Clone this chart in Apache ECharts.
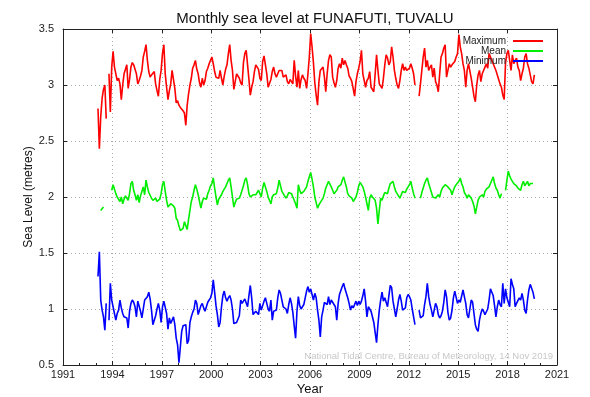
<!DOCTYPE html>
<html>
<head>
<meta charset="utf-8">
<script src="https://cdn.jsdelivr.net/npm/echarts@6/dist/echarts.min.js"></script>
<style>
  html, body { margin: 0; padding: 0; background: #fff; }
  #chart { width: 590px; height: 397px; }
</style>
</head>
<body>
<div id="chart"></div>
<script>
// monthly series, first value is Feb 1993
const startYear = 1993
const startMonth = 2

const maxLevel = [
  2.79, 2.43, 2.72, 2.88, 2.96, 3.00, 2.70, null, 3.10, 2.76, 3.16, 3.30,
  3.16, 3.15, 3.04, 3.06, 3.01, 2.87, 3.00, 3.10, 3.14, 3.18, 2.97, 3.05,
  3.16, 3.20, 3.18, 3.19, 3.10, 3.01, 3.04, 3.08, 3.13, 3.25, 3.30, 3.36,
  3.22, 3.12, 3.07, 3.09, 3.10, 3.12, 3.01, 2.95, 2.90, 3.05, 3.13, 3.28,
  3.36, 3.10, 2.98, 2.87, 2.95, 3.01, 3.13, 3.05, 2.97, 2.84, 2.86, 2.82,
  2.80, 2.79, 2.77, 2.75, 2.64, 2.82, 2.92, 3.00, 3.06, 3.15, 3.18, 3.22,
  3.14, 3.10, 3.02, 2.98, 3.06, 3.00, 3.04, 3.12, 3.15, 3.19, 3.22, 3.25,
  3.19, 3.12, 3.07, 3.06, 3.06, 3.13, 3.06, 3.00, 3.08, 3.14, 3.18, 3.28,
  3.36, 3.22, 3.13, 2.96, 2.97, 3.10, 3.08, 3.06, 3.02, 3.00, 3.20, 3.28,
  3.31, 3.18, 3.05, 2.91, 2.98, 3.03, 3.12, 3.18, 3.16, 3.14, 3.06, 3.04,
  3.21, 3.26, 3.18, 3.10, 2.98, 2.98, 3.05, 3.12, 3.16, 3.10, 3.07, 3.10,
  3.13, 3.12, 3.13, 3.07, 3.08, 3.09, 3.03, 3.01, 3.05, 3.06, 3.01, 3.22,
  3.08, 2.98, 3.13, 2.97, 3.05, 3.09, 3.06, 3.04, 2.97, 3.10, 3.25, 3.46,
  3.34, 3.20, 3.02, 2.91, 2.82, 3.03, 3.13, 3.14, 3.16, 3.07, 2.94, 3.10,
  3.22, 3.27, 3.25, 3.07, 3.02, 2.98, 3.04, 3.15, 3.19, 3.15, 3.24, 3.18,
  3.22, 3.18, 3.15, 3.08, 3.06, 3.03, 3.03, 2.90, 3.03, 3.10, 3.15, 3.21,
  3.31, 3.10, 3.04, 2.98, 3.04, 3.06, 3.12, 2.98, 2.96, 2.94, 3.10, 3.27,
  3.13, 3.01, 3.00, 2.97, 3.06, 3.18, 3.27, 3.24, 3.18, 3.21, 3.34, 3.25,
  3.13, 3.06, 3.00, 2.97, 3.04, 3.13, 3.19, 3.13, 3.16, 3.13, 3.14, 3.15,
  3.19, 3.15, 3.10, 3.00, null, null, 2.90, 3.01, 3.13, 3.25, 3.33, 3.16,
  3.22, 3.13, 3.16, 3.18, 3.07, 3.15, 3.03, 3.00, 2.94, 3.10, 3.25, 3.28,
  3.33, 3.36, 3.07, 3.13, 3.19, 3.16, 3.18, 3.19, 3.21, 3.25, 3.28, 3.45,
  3.34, 3.28, 3.19, 3.13, 2.98, 3.13, 3.19, 3.19, 3.06, 2.98, 2.90, 2.85,
  3.00, 3.09, 3.13, 3.03, 3.10, 3.13, 3.16, 3.19, 3.15, 3.28, 3.28, 3.22,
  3.19, 3.19, 3.13, 3.09, 3.05, 3.01, 2.98, 2.91, 2.87, 3.20, 3.28, 3.31,
  3.30, 3.13, 3.27, 3.19, 3.22, 3.24, 3.16, 3.13, 3.04, 3.10, 3.15, 3.25,
  3.28, 3.19, 3.15, 3.09, 3.03, 3.01, 3.09
]

const meanLevel = [
  null, null, 1.88, 1.89, 1.91, null, null, null, null, null, 2.06, 2.11,
  2.07, 2.03, 2.00, 1.98, 1.96, 2.00, 1.94, 1.98, 2.01, 2.02, 1.97, 2.03,
  2.12, 2.14, 2.06, 2.02, 1.97, 2.02, 1.95, 2.01, 2.05, 2.09, 2.02, 2.15,
  2.09, 2.04, 2.03, 1.99, 1.97, 1.96, 1.99, 1.96, 1.97, 1.98, 2.03, 2.11,
  2.14, 2.05, 1.97, 1.91, 1.92, 1.94, 1.95, 1.92, 1.90, 1.81, 1.79, 1.74,
  1.70, 1.69, 1.72, 1.78, 1.78, 1.71, 1.80, 1.88, 1.96, 2.00, 2.06, 2.11,
  2.07, 2.02, 1.96, 1.90, 1.96, 1.99, 2.00, 1.98, 2.03, 2.06, 2.10, 2.12,
  2.17, 2.08, 2.00, 1.93, 1.98, 1.99, 2.02, 2.05, 2.07, 2.09, 2.12, 2.15,
  2.17, 2.09, 2.00, 1.91, 1.95, 1.98, 1.99, 1.99, 2.02, 2.06, 2.10, 2.15,
  2.17, 2.11, 2.03, 2.00, 2.01, 2.02, 2.02, 2.02, 2.04, 2.06, 2.03, 2.00,
  2.08, 2.13, 2.12, 2.05, 2.00, 1.99, 1.94, 2.00, 2.02, 2.02, 2.03, 2.08,
  2.15, 2.10, 2.05, 2.03, 2.01, 1.99, 2.01, 2.04, 2.05, 2.03, 2.00, 2.00,
  1.94, 1.90, 2.11, 2.06, 2.03, 2.04, 2.05, 2.06, 2.09, 2.14, 2.18, 2.22,
  2.16, 2.09, 2.00, 1.95, 1.90, 1.93, 1.95, 1.96, 1.99, 2.03, 2.08, 2.11,
  2.14, 2.15, 2.09, 2.06, 2.03, 2.04, 2.06, 2.09, 2.08, 2.11, 2.15, 2.18,
  2.17, 2.09, 2.03, 2.01, 2.00, 1.99, 1.96, 1.97, 2.00, 2.04, 2.10, 2.13,
  2.14, 2.09, 2.05, 2.00, 1.94, 1.88, 1.99, 2.02, 2.00, 2.01, 1.97, 1.90,
  1.76, 1.88, 1.99, 1.97, 2.01, 2.04, 2.05, 2.03, 2.08, 2.12, 2.13, 2.14,
  2.09, 2.05, 2.03, 2.01, 1.99, 2.02, 2.05, 2.06, 2.04, 2.07, 2.09, 2.11,
  2.14, 2.08, 2.03, 1.99, null, null, null, 1.99, 2.04, 2.08, 2.12, 2.15,
  2.17, 2.12, 2.08, 2.04, 2.00, 1.99, 1.99, 1.99, 2.02, 2.00, 2.05, 2.08,
  2.09, 2.11, 2.10, 2.09, 2.08, 2.06, 2.02, 2.06, 2.09, 2.11, 2.12, 2.14,
  2.17, 2.12, 2.09, 2.04, 2.02, 1.99, 2.02, 2.03, 1.99, 1.96, 1.92, 1.85,
  1.91, 1.97, 2.00, 2.01, 2.02, 2.00, 2.05, 2.07, 2.08, 2.09, 2.12, 2.15,
  2.18, 2.12, 2.08, 2.06, 2.02, 1.99, 2.03, null, null, 2.06, 2.15, 2.23,
  2.19, 2.16, 2.14, 2.12, 2.11, 2.10, 2.08, 2.09, 2.06, 2.11, 2.14, 2.10,
  2.09, 2.14, 2.10, 2.12, 2.11, 2.12, null
]

const minLevel = [
  1.29, 1.51, 1.08, 0.99, 0.93, 0.81, 1.05, null, 0.90, 1.23, 1.08, 1.09,
  0.96, 0.90, 0.96, 0.99, 1.08, 1.01, 0.96, 0.93, 0.92, 0.92, 0.83, 0.98,
  1.05, 1.08, 1.06, 1.02, 0.93, 1.07, 1.06, 0.98, 0.92, 1.00, 1.08, 1.08,
  1.11, 1.15, 1.09, 0.99, 0.86, 0.87, 0.94, 1.00, 1.05, 0.99, 0.88, 1.02,
  1.07, 1.07, 0.96, 0.82, 0.92, 0.87, 0.90, 0.93, 0.86, 0.74, 0.68, 0.52,
  0.66, 0.80, 0.85, 0.86, 0.86, 0.69, 0.72, 0.88, 0.93, 0.97, 1.00, 1.08,
  1.05, 0.95, 0.96, 1.03, 1.05, 1.01, 0.98, 1.02, 1.06, 1.08, 1.10, 1.14,
  1.26, 1.15, 1.03, 0.95, 0.84, 0.88, 1.02, 1.12, 1.16, 1.10, 1.07, 1.10,
  1.12, 1.08, 1.00, 0.87, 0.87, 0.88, 0.89, 0.94, 1.08, 1.05, 1.07, 1.09,
  1.10, 1.02, 1.12, 1.21, 1.10, 0.95, 0.94, 0.98, 0.99, 0.95, 1.05, 0.99,
  1.03, 1.07, 1.10, 1.05, 1.00, 0.98, 1.08, 0.90, 0.98, 0.99, 0.99, 1.10,
  1.17, 1.14, 1.08, 1.02, 1.02, 1.00, 0.96, 1.04, 1.10, 1.05, 0.97, 0.85,
  0.74, 0.98, 1.11, 1.03, 1.00, 1.02, 1.04, 1.10, 1.16, 1.20, 1.15, 1.18,
  1.17, 1.08, 1.14, 1.10, 0.99, 0.90, 0.75, 0.93, 0.99, 1.06, 1.05, 1.04,
  1.11, 1.04, 1.08, 1.06, 1.04, 1.02, 0.90, 1.05, 1.13, 1.14, 1.20, 1.23,
  1.18, 1.14, 1.10, 1.05, 0.99, 1.03, 1.01, 1.04, 1.07, 1.03, 1.07, 1.04,
  1.07, 1.12, 1.18, 1.07, 0.93, 1.02, 1.00, 0.98, 0.97, 0.88, 0.79, 0.70,
  0.86, 0.99, 1.08, 1.15, 1.07, 1.10, 1.06, 1.02, 1.12, 1.21, 1.19, 1.07,
  1.00, 0.93, 1.00, 1.08, 1.13, 1.07, 0.99, 0.99, 1.01, 1.10, 1.13, 1.11,
  1.08, 1.00, 0.93, 0.86, null, null, 0.99, 0.92, 0.93, 0.94, 1.04, 1.11,
  1.23, 1.11, 1.04, 0.99, 0.93, 0.99, 1.05, 1.02, 0.95, 0.92, 0.94, 0.98,
  1.06, 1.17, 1.11, 0.97, 0.90, 0.92, 0.99, 1.10, 1.16, 1.17, 1.05, 1.08,
  1.06, 1.05, 1.17, 1.18, 1.05, 0.95, 0.92, 1.00, 1.08, 1.06, 0.96, 0.86,
  0.82, 0.80, 0.90, 0.96, 1.00, 0.98, 0.95, 0.95, 1.00, 1.08, 1.18, 1.15,
  1.12, 1.03, 0.93, 1.02, 1.08, 1.04, 1.02, 1.23, 1.05, 1.18, 1.10, 1.06,
  1.02, 1.27, 1.22, 1.18, 1.02, 1.05, 1.04, 1.10, 1.08, 1.14, 1.08, 0.99,
  0.96, 1.08, 1.17, 1.22, 1.23, 1.15, 1.09
]

const seriesNames = ['Maximum', 'Mean', 'Minimum']
const seriesColors = ['#ff0000', '#00ee00', '#0000ff']

function toPoints(values) {
  return values.map((v, i) => [startYear + (startMonth - 1 + i + 0.5) / 12, v])
}

const chart = echarts.init(document.getElementById('chart'))
const font = 'Liberation Sans, Arial, sans-serif'
const gridLine = { show: true, lineStyle: { type: [1, 3], color: '#aaa', width: 1 } }

const frameAxis = {
  axisLine: { show: true, lineStyle: { color: '#222', width: 1 } },
  axisTick: { show: true, inside: true, length: 4, lineStyle: { color: '#222' } },
  axisLabel: { show: false },
  splitLine: { show: false }
}

chart.setOption({
  animation: false,
  backgroundColor: '#fff',
  title: {
    text: 'Monthly sea level at FUNAFUTI, TUVALU',
    left: 310,
    textAlign: 'center',
    top: 6,
    textStyle: { fontFamily: font, fontSize: 15, fontWeight: 'normal', color: '#111' }
  },
  legend: {
    data: seriesNames,
    orient: 'vertical',
    right: 42,
    top: 31,
    align: 'right',
    icon: 'rect',
    itemWidth: 30,
    itemHeight: 2,
    itemGap: 0,
    textStyle: { fontFamily: font, fontSize: 10, lineHeight: 8, color: '#222', padding: [0, 2, 0, 0] }
  },
  grid: { left: 63, right: 33, top: 29, bottom: 32, outerBoundsMode: 'none' },
  xAxis: [{
    type: 'value',
    min: 1991,
    max: 2021,
    interval: 3,
    name: 'Year',
    nameLocation: 'middle',
    nameGap: 18,
    nameMoveOverlap: false,
    nameTextStyle: { fontFamily: font, fontSize: 13, color: '#111' },
    axisLine: { show: true, lineStyle: { color: '#222', width: 1 } },
    axisTick: { show: true, inside: true, length: 4, lineStyle: { color: '#222' } },
    minorTick: { show: true, splitNumber: 3, length: 2, lineStyle: { color: '#222' } },
    axisLabel: { fontFamily: font, fontSize: 11, color: '#222', margin: 4, formatter: v => String(v) },
    splitLine: gridLine
  }, Object.assign({
    type: 'value', min: 1991, max: 2021, interval: 3, position: 'top'
  }, frameAxis)],
  yAxis: [{
    type: 'value',
    min: 0.5,
    max: 3.5,
    interval: 0.5,
    name: 'Sea Level (metres)',
    nameLocation: 'middle',
    nameGap: 28,
    nameMoveOverlap: false,
    nameTextStyle: { fontFamily: font, fontSize: 12, color: '#111' },
    axisLine: { show: true, lineStyle: { color: '#222', width: 1 } },
    axisTick: { show: true, inside: true, length: 4, lineStyle: { color: '#222' } },
    axisLabel: { fontFamily: font, fontSize: 11, color: '#222', margin: 9 },
    splitLine: gridLine
  }, Object.assign({
    type: 'value', min: 0.5, max: 3.5, interval: 0.5, position: 'right'
  }, frameAxis)],
  graphic: [{
    type: 'text',
    right: 37,
    top: 351,
    style: {
      text: 'National Tidal Centre, Bureau of Meteorology, 14 Nov 2019',
      fontFamily: font,
      fontSize: 9.5,
      fill: '#c8c8c8'
    }
  }],
  series: [maxLevel, meanLevel, minLevel].map((values, k) => ({
    name: seriesNames[k],
    type: 'line',
    data: toPoints(values),
    showSymbol: false,
    connectNulls: false,
    color: seriesColors[k],
    lineStyle: { width: 1.6, color: seriesColors[k] },
    z: 3
  }))
})
</script>
</body>
</html>
